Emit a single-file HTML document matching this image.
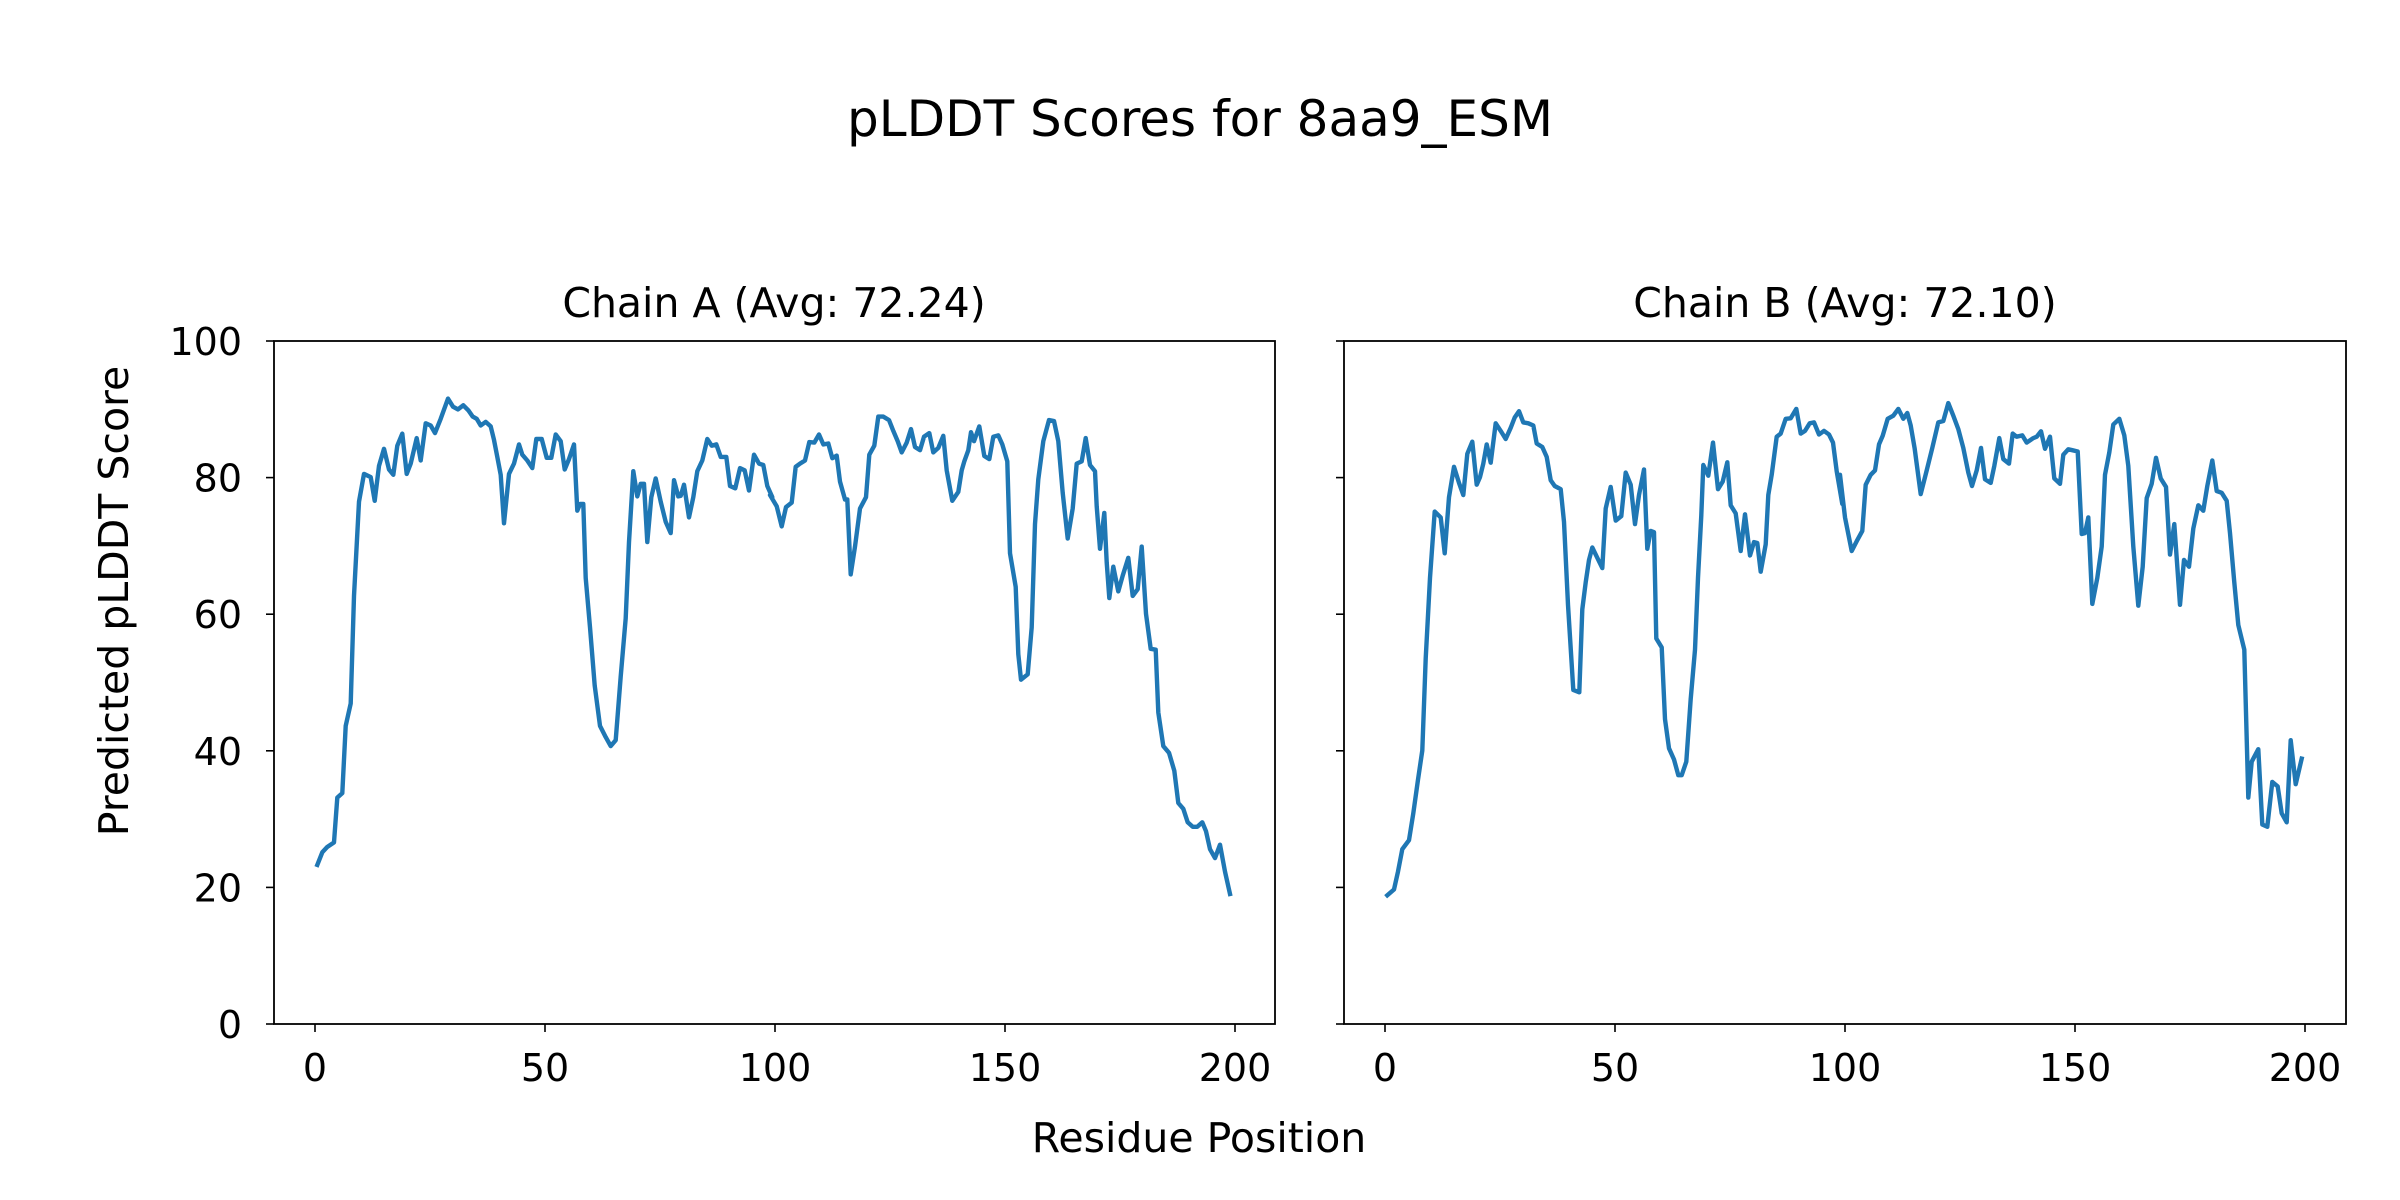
<!DOCTYPE html>
<html><head><meta charset="utf-8"><style>
html,body{margin:0;padding:0;background:#fff;}
svg{display:block;}
text{font-family:"DejaVu Sans","Liberation Sans",sans-serif;fill:#000;}
</style></head><body>
<svg id="s" width="2400" height="1200" viewBox="0 0 2400 1200" xmlns="http://www.w3.org/2000/svg">
<rect width="2400" height="1200" fill="#fff"/>
<text x="1200" y="136" font-size="50" text-anchor="middle">pLDDT Scores for 8aa9_ESM</text>
<text x="774" y="317" font-size="41" text-anchor="middle">Chain A (Avg: 72.24)</text>
<text x="1845" y="317" font-size="41" text-anchor="middle">Chain B (Avg: 72.10)</text>
<text x="1199" y="1152" font-size="41" text-anchor="middle">Residue Position</text>
<text transform="translate(128,601) rotate(-90)" font-size="41" text-anchor="middle">Predicted pLDDT Score</text>
<g id="lines" fill="none" stroke="#1f77b4" stroke-width="4.4" stroke-linejoin="round" stroke-linecap="square"></g>
<g id="axes"></g>
</svg>
<script>
var s=document.getElementById('s'),NS='http://www.w3.org/2000/svg';
function el(t,a,p,txt){var e=document.createElementNS(NS,t);for(var k in a)e.setAttribute(k,a[k]);if(txt!==undefined)e.textContent=txt;(p||s).appendChild(e);return e;}
function Y(zy){return 339+(zy-27)*0.4483;}
function pts(base,arr){var o=[];for(var i=0;i<arr.length;i+=2)o.push((base+arr[i]/3).toFixed(1)+','+Y(arr[i+1]).toFixed(1));return o;}
var a1=[130,1200,145,1172,160,1160,180,1150,190,1050,205,1040,215,890,230,840,240,600,255,390,270,328,290,335,302,388,315,310,330,272,345,318,358,330,370,265,385,238,398,328,410,305,428,248,440,298,455,215,470,220,483,237,500,205,522,160,537,178,552,184,568,175,583,186,596,200,608,205,620,220,635,212,650,222,660,252,670,290,680,330,690,438,705,328,720,305,735,262,745,285,760,298,775,315,787,250,803,250,818,292,832,292,845,240,860,255,872,318,885,295,900,262,910,410,918,395,928,395,935,560,948,670,962,800,978,890,995,915,1010,935,1025,922,1040,780,1055,650,1065,480,1078,322,1090,378,1100,350,1110,350,1120,480,1132,380,1145,338,1160,390,1175,435,1190,460,1200,342,1213,378,1220,377,1230,352,1245,425,1258,380,1270,322,1285,298,1300,250,1313,265,1327,262,1340,290,1357,290,1368,355,1384,360,1398,315,1412,320,1425,365,1440,285,1455,305,1468,308,1480,355,1495,380];
var a2=[0,375,20,400,35,445,48,402,65,392,77,312,90,305,105,298,118,257,133,258,147,240,160,262,175,260,187,293,200,287,210,345,225,385,232,385,242,552,255,490,270,405,288,380,298,285,313,265,325,200,340,200,357,208,370,232,383,255,395,280,410,258,423,228,435,268,450,275,462,245,478,237,490,280,505,270,520,243,530,320,547,388,565,368,575,320,583,300,595,275,603,235,612,255,628,222,643,288,658,295,670,245,685,242,697,262,712,300,720,505,737,580,745,730,753,787,773,775,785,670,795,440,805,340,820,255,837,208,852,210,865,255,878,370,893,472,908,405,920,305,935,300,947,248,960,308,975,322,980,400,990,495,1003,415,1010,525,1018,605,1030,535,1045,590,1058,555,1075,515,1088,600,1103,585,1115,490,1128,640,1142,718,1157,720,1165,860,1180,935,1197,950,1213,990,1225,1062,1240,1075,1253,1105,1268,1115,1282,1115,1297,1105,1308,1125,1320,1165,1335,1185,1350,1155,1365,1215,1380,1265];
var b1=[130,1268,150,1255,162,1215,175,1165,195,1145,208,1085,222,1010,235,945,245,740,258,560,272,412,290,425,302,505,315,380,330,312,345,348,358,375,370,283,385,256,398,352,408,335,418,305,428,262,440,303,455,215,470,232,485,250,500,225,512,202,525,188,538,213,553,215,568,220,578,260,595,268,608,290,620,342,632,355,650,362,660,435,672,620,688,810,706,815,715,630,725,570,735,520,745,492,760,515,775,538,785,405,800,357,815,432,832,422,845,325,860,352,873,440,885,375,900,318,910,495,920,455,930,458,937,695,953,715,963,875,975,940,990,965,1003,1000,1013,1000,1027,970,1040,830,1053,720,1062,560,1072,420,1078,308,1093,332,1107,258,1122,362,1136,345,1150,302,1160,398,1175,416,1190,500,1203,418,1218,510,1230,480,1240,482,1250,546,1265,485,1273,375,1283,330,1298,245,1310,238,1325,205,1340,204,1357,183,1370,238,1383,232,1397,215,1410,213,1425,240,1440,232,1455,240,1467,258,1478,322,1495,395];
var b2=[0,330,15,425,35,500,50,478,67,455,77,352,92,330,105,320,117,262,128,243,143,205,160,198,175,183,190,205,202,192,212,220,224,272,242,373,260,320,277,270,295,213,310,210,325,170,340,198,355,228,370,270,385,325,396,355,410,320,423,270,435,340,452,348,463,310,478,248,490,295,507,305,518,238,530,245,547,242,560,258,580,248,590,245,603,233,615,272,630,245,643,338,660,350,670,285,685,273,697,275,713,278,725,462,735,460,745,425,757,618,772,560,785,490,795,330,808,280,820,218,838,205,853,242,865,310,880,490,895,622,908,535,920,382,935,350,948,292,962,338,978,357,990,508,1003,440,1020,620,1032,520,1047,535,1060,450,1075,398,1090,410,1102,355,1117,298,1130,366,1145,370,1160,388,1170,460,1183,570,1195,665,1213,720,1225,1050,1235,970,1255,942,1267,1110,1282,1115,1297,1015,1313,1025,1325,1085,1340,1105,1352,922,1367,1020,1385,963];
var g=document.getElementById('lines');
el('polyline',{points:pts(274,a1).concat(pts(770,a2)).join(' ')},g);
el('polyline',{points:pts(1344,b1).concat(pts(1840,b2)).join(' ')},g);
var ax=document.getElementById('axes');
[[274,1275,true],[1344,2346,false]].forEach(function(p){
 var L=p[0],R=p[1];
 el('rect',{x:L,y:341,width:R-L,height:683,fill:'none',stroke:'#000','stroke-width':1.8},ax);
 for(var v=0;v<=100;v+=20){var y=1024-v*6.83;
  el('line',{x1:L-8,y1:y,x2:L,y2:y,stroke:'#000','stroke-width':1.6},ax);
  if(p[2])el('text',{x:L-32,y:y+14,'font-size':38,'text-anchor':'end'},ax,String(v));}
 for(var r=0;r<=200;r+=50){var x=L+41+r*4.6;
  el('line',{x1:x,y1:1024,x2:x,y2:1032,stroke:'#000','stroke-width':1.6},ax);
  el('text',{x:x,y:1081,'font-size':38,'text-anchor':'middle'},ax,String(r));}
});
</script>
</body></html>
